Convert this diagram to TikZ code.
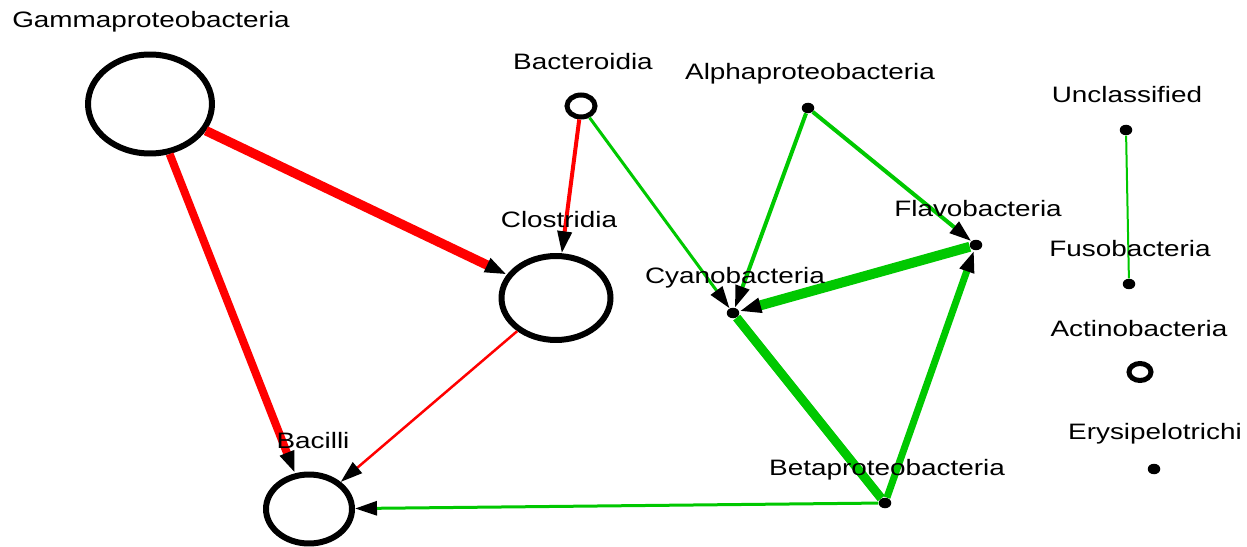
\documentclass[tikz,border=0pt]{standalone}
\usepackage{fontspec}
\setmainfont{Liberation Sans}[FakeStretch=1.25]
\usetikzlibrary{arrows.meta, shapes.geometric}
\definecolor{posgreen}{RGB}{0,200,0}
\definecolor{negred}{RGB}{255,0,0}

\begin{document}
\begin{tikzpicture}[x=0.02cm, y=-0.02cm, >={Triangle[length=0.44cm, width=0.28cm, color=black]},
    taxon/.style={ellipse, draw, line width=0.12cm, inner sep=0pt, fill=white},
    ring/.style={ellipse, draw, line width=0.1cm, inner sep=0pt, fill=white},
    dot/.style={ellipse, fill, inner sep=0pt, minimum width=0.25cm, minimum height=0.21cm},
    taxname/.style={font=\fontsize{12.7}{15}\selectfont, inner sep=0pt, anchor=base}]
  \useasboundingbox (0,0) rectangle (1247,547);

  % taxa
  \node[taxon, minimum width=2.48cm, minimum height=1.98cm] (g) at (150,104) {};
  \node[taxon, minimum width=2.18cm, minimum height=1.68cm] (cl) at (556,298) {};
  \node[taxon, minimum width=1.72cm, minimum height=1.38cm] (ba) at (309,509) {};
  \node[ring, minimum width=0.56cm, minimum height=0.44cm] (bd) at (581,106) {};
  \node[ring, minimum width=0.44cm, minimum height=0.34cm] (ac) at (1140,372) {};
  \node[dot] (al) at (808,108) {};
  \node[dot] (un) at (1126,130) {};
  \node[dot] (fl) at (976,245) {};
  \node[dot] (cy) at (733,313) {};
  \node[dot] (fu) at (1129,284) {};
  \node[dot] (er) at (1154,469) {};
  \node[dot] (be) at (885,503) {};

  \path[->]
    (g) edge[negred, line width=0.19cm] (cl)
    (g) edge[negred, line width=0.16cm] (ba)
    (bd) edge[negred, line width=0.08cm] (cl)
    (cl) edge[negred, line width=0.05cm] (ba)
    (bd) edge[posgreen, line width=0.06cm] (cy)
    (al) edge[posgreen, line width=0.08cm] (cy)
    (al) edge[posgreen, line width=0.08cm] (fl)
    (fl) edge[posgreen, line width=0.2cm] (cy)
    (be) edge[posgreen, line width=0.14cm] (fl)
    (be) edge[posgreen, line width=0.06cm] (ba)
  ;
  \path
    (cy) edge[posgreen, line width=0.18cm] (be)
    (un) edge[posgreen, line width=0.04cm] (fu)
  ;

  % names
  \node[taxname] (gl) at (151,28) {Gammaproteobacteria};
  \node[taxname] (bdl) at (583,70) {Bacteroidia};
  \node[taxname] (all) at (810,80) {Alphaproteobacteria};
  \node[taxname] (unl) at (1127,103) {Unclassified};
  \node[taxname] (cll) at (559,228) {Clostridia};
  \node[taxname] (fll) at (978,216) {Flavobacteria};
  \node[taxname] (cyl) at (735,283) {Cyanobacteria};
  \node[taxname] (ful) at (1130,256) {Fusobacteria};
  \node[taxname] (acl) at (1139,336) {Actinobacteria};
  \node[taxname] (erl) at (1155,439) {Erysipelotrichi};
  \node[taxname] (bal) at (313,448) {Bacilli};
  \node[taxname] (bel) at (887,475) {Betaproteobacteria};
\end{tikzpicture}
\end{document}
